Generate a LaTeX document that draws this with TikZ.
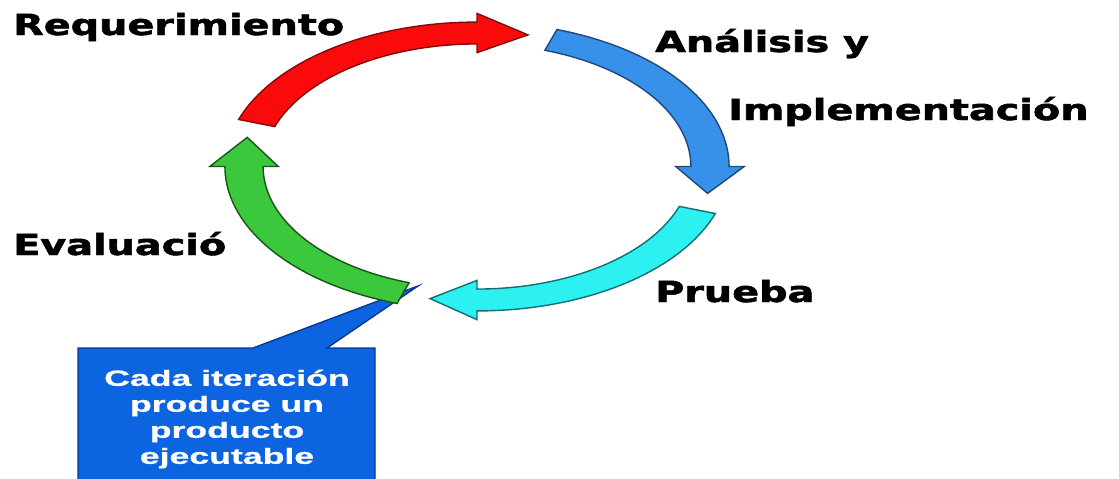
\documentclass[tikz,border=0pt]{standalone}
\usepackage{fontspec}
\usepackage{graphicx}
\newfontfamily\stagefont{DejaVu Sans}[BoldFeatures={FakeBold=1.6}]
\newfontfamily\notefont{Liberation Sans}[BoldFeatures={FakeBold=0.6}]

\definecolor{redfill}{RGB}{250,10,10}
\definecolor{rededge}{RGB}{130,10,10}
\definecolor{bluefill}{RGB}{55,145,235}
\definecolor{blueedge}{RGB}{35,70,120}
\definecolor{cyanfill}{RGB}{45,240,240}
\definecolor{cyanedge}{RGB}{20,110,115}
\definecolor{greenfill}{RGB}{60,200,60}
\definecolor{greenedge}{RGB}{25,85,25}
\definecolor{notefill}{RGB}{12,100,225}
\definecolor{noteedge}{RGB}{10,55,150}

% stage labels are set wide, as in the original slide
\newcommand\widetext[1]{\scalebox{1.37}[1]{#1}}
\newcommand\widenote[1]{\scalebox{1.62}[1]{#1}}

% curved block arrow on the unit circle of the current scope:
% #1 tail angle, #2 angle of the head's back edge, #3 tip angle, #4 style
\newcommand\looparrow[4]{%
  \filldraw[#4] plot[domain=#1:#2, samples=40] (\x:1.082)
    -- (#2:1.147) -- (#3:1.01) -- (#2:0.853)
    -- plot[domain=#2:#1, samples=40] (\x:0.918) -- cycle;}

\begin{document}
\begin{tikzpicture}[x=1pt, y=1pt,
  stage/.style={anchor=base west, inner sep=0pt,
    font=\stagefont\bfseries\fontsize{29}{34}\selectfont},
  cycle arrow/.style={line width=1.4pt, line join=miter},
  note/.style={align=center, inner sep=0pt, text=white,
    font=\notefont\bfseries\fontsize{22}{26}\selectfont}]

\fill[white] (0,0) rectangle (1119,-479);
\useasboundingbox (0,0) rectangle (1119,-479);

% callout box with its pointer
\coordinate (pointer tip) at (418,-286);
\fill[notefill] (78,-348) -- (253,-348) -- (pointer tip) -- (327,-348)
  -- (375,-348) -- (375,-479) -- (78,-479) -- cycle;
\draw[noteedge, line width=1.4pt, line join=miter] (78,-479) -- (78,-348)
  -- (253,-348) -- (pointer tip) -- (327,-348) -- (375,-348) -- (375,-479);
\node[note] (iteration note) at (227,-419)
  {\widenote{Cada iteración}\\ \widenote{produce un}\\
   \widenote{producto}\\ \widenote{ejecutable}};

% the four phases of the cycle
\begin{scope}[shift={(477,-166.5)}, x=233pt, y=133.5pt]
  \looparrow{161}{90}{77.5}{cycle arrow, fill=redfill, draw=rededge}
  \looparrow{71.5}{0}{-11.5}{cycle arrow, fill=bluefill, draw=blueedge}
  \looparrow{-19}{-90}{-101.5}{cycle arrow, fill=cyanfill, draw=cyanedge}
  \looparrow{251.5}{180}{167.5}{cycle arrow, fill=greenfill, draw=greenedge}
\end{scope}

% phase labels
\node[stage] (requirement) at (13,-35) {\widetext{Requerimiento}};
\node[stage] (analysis) at (655,-52) {\widetext{Análisis y}};
\node[stage] (implementation) at (728,-120) {\widetext{Implementación}};
\node[stage] (evaluation) at (13,-255) {\widetext{Evaluació}};
\node[stage] (testing) at (655,-302) {\widetext{Prueba}};
\end{tikzpicture}
\end{document}
